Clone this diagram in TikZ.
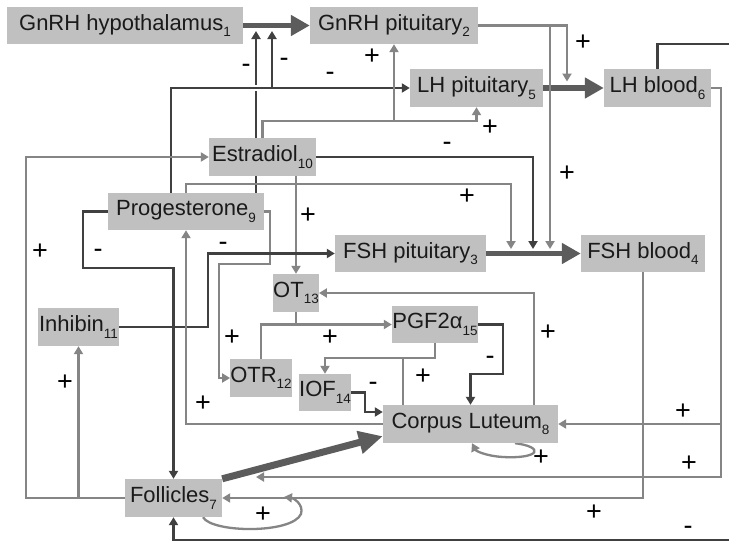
\documentclass[tikz,border=0pt]{standalone}
\usepackage{fontspec}
\setmainfont{Liberation Sans}
\usetikzlibrary{arrows.meta}
\pgfdeclarelayer{bg}
\pgfsetlayers{bg,main}
\definecolor{boxgray}{HTML}{C0C0C0}
\definecolor{darkline}{HTML}{404040}
\definecolor{grayline}{HTML}{858585}
\definecolor{thickline}{HTML}{5C5C5C}
\definecolor{txt}{HTML}{1A1A1A}
\newcommand\sbs[1]{\raisebox{-0.3em}{\fontsize{13.5}{14}\selectfont #1}}

\begin{document}
\begin{tikzpicture}[x=1pt,y=-1pt,
  box/.style={fill=boxgray, inner sep=0pt, text=txt, font=\fontsize{22}{24}\selectfont, anchor=center},
  sign/.style={text=black, font=\fontsize{27}{28}\selectfont, inner sep=0pt},
  gy/.style={draw=grayline, line width=2.3pt},
  dk/.style={draw=darkline, line width=2.6pt},
  tip/.style={-{Triangle[length=8pt,width=9pt]}},
  big/.style={draw=thickline, line width=5.5pt, -{Triangle[length=19pt,width=20pt]}},
  bigger/.style={draw=thickline, line width=7pt, -{Triangle[length=24pt,width=22pt]}},
]
\useasboundingbox (0,0) rectangle (729,541);

% hormone and tissue compartments
\node[box, minimum width=236pt, minimum height=37pt] (hyp)  at (125,25.5)   {GnRH hypothalamus\sbs{1}};
\node[box, minimum width=168pt, minimum height=37pt] (gpit) at (394,25.5)   {GnRH pituitary\sbs{2}};
\node[box, minimum width=133pt, minimum height=38pt] (lhp)  at (476.5,88)   {LH pituitary\sbs{5}};
\node[box, minimum width=107pt, minimum height=38pt] (lhb)  at (657.5,88)   {LH blood\sbs{6}};
\node[box, minimum width=107pt, minimum height=38pt] (e2)   at (262.5,157)  {Estradiol\sbs{10}};
\node[box, minimum width=156pt, minimum height=37pt] (p4)   at (186,211.5)  {Progesterone\sbs{9}};
\node[box, minimum width=151pt, minimum height=37pt] (fshp) at (410.5,253.5){FSH pituitary\sbs{3}};
\node[box, minimum width=124pt, minimum height=37pt] (fshb) at (643,253.5)  {FSH blood\sbs{4}};
\node[box, minimum width=81pt,  minimum height=38pt] (inh)  at (78.5,327)   {Inhibin\sbs{11}};
\node[box, minimum width=42pt,  minimum height=38pt] (ot)   at (296,293)    {OT\sbs{13}};
\node[box, minimum width=86pt,  minimum height=37pt] (pgf)  at (435,324.5)  {PGF2α\sbs{15}};
\node[box, minimum width=60pt,  minimum height=38pt] (otr)  at (261,378)    {OTR\sbs{12}};
\node[box, minimum width=50pt,  minimum height=37pt] (iof)  at (325,392.5)  {IOF\sbs{14}};
\node[box, minimum width=175pt, minimum height=38pt] (cl)   at (470.5,424)  {Corpus Luteum\sbs{8}};
\node[box, minimum width=97pt,  minimum height=38pt] (fol)  at (173.5,498)  {Follicles\sbs{7}};

% free ends that land on the release arrows
\coordinate (g1) at (256,31);
\coordinate (g2) at (272,31);
\coordinate (l1) at (567,81.5);
\coordinate (f1) at (511,249);
\coordinate (f2) at (533,249);
\coordinate (f3) at (550,249);
\coordinate (g5) at (256,477);

\begin{pgfonlayer}{bg}
\fill[white] (0,0) rectangle (729,541);

% release arrows
\draw[big] (hyp.east) -- (gpit.west);
\draw[big] (lhp.east) -- (lhb.west);
\draw[big] (fshp.east) -- (fshb.west);
\draw[bigger] (fol.north east) -- ([yshift=7pt]cl.south west);

% progesterone feedback
\draw[dk,tip] ([xshift=70pt]p4.north) -- (g1);
\draw[dk,tip,preaction={draw=white,line width=6pt}] ([xshift=-15pt]p4.north) |- (lhp.west);
\draw[dk,tip] (272,88) -- (g2);
\draw[dk,tip] (p4.west) -| (83,268) -| (fol.north);
\draw[gy,tip] (p4.north) |- (511,184) -- (f1);
\draw[gy,tip] (p4.east) -- (270,211.5) |- (219,264) |- (otr.west);

% estradiol feedback
\draw[dk,tip] (e2.east) -| (f2);
\draw[gy,tip] (e2.north) -- (262.5,121) -| (lhp.south);
\draw[gy,tip] (394,121) -- (gpit.south);
\draw[gy,tip] (ot.north |- e2.south) -- (ot.north);

% GnRH action on gonadotropin release
\draw[gy,tip] (gpit.east) -| (l1);
\draw[gy,tip] (550,25.5) -- (f3);

% inhibin
\draw[dk,tip] (inh.east) -- (208,327) |- (fshp.west);

% luteal network
\draw[gy,tip] (cl.west) -| (p4.south);
\draw[gy,tip] (ot.south) |- (pgf.west);
\draw[gy] (296,324.5) -| (otr.north);
\draw[gy,tip] (pgf.south) -- (435,358) -| (iof.north);
\draw[gy] (403,358) -- ([xshift=-67.5pt]cl.north);
\draw[dk,tip] (iof.east) -- (365,392.5) |- ([yshift=12pt]cl.west);
\draw[dk,tip] (pgf.east) -| (503,374) -| (cl.north);
\draw[gy,tip] ([xshift=63.5pt]cl.north) |- (ot.east);
\draw[gy,tip] ([xshift=44.5pt]cl.south) .. controls (545,447) and (540,459) .. (503,457)
  .. controls (486,456) and (476,451) .. ([xshift=1.5pt]cl.south);

% follicles
\draw[gy,tip] ([xshift=29.5pt]fol.south) .. controls (212,533) and (292,534) .. (301,514)
  .. controls (304,504) and (293,498) .. (284,497);
\draw[gy,tip] (fshb.south) |- (fol.east);
\draw[gy,tip] (fol.west) -- (26,498) |- (e2.west);
\draw[gy,tip] (inh.south |- fol.west) -- (inh.south);

% LH blood actions
\draw[gy,tip] (lhb.east) -| (721,477) -- (g5);
\draw[gy,tip] (721,424) -- (cl.east);
\draw[dk,tip] (lhb.north) |- (740,44) -- (740,540) -| (fol.south);
\end{pgfonlayer}

% signs of the interactions
\foreach \x/\y/\s [count=\i] in {
  246/68/-, 284/62/-, 330/76/-, 372/57/+, 583/43/+, 490/128/+, 447/146/-,
  567/174/+, 467/197/+, 40/252/+, 98/253/-, 308/216/+, 223/246/-, 548/333/+,
  232/338/+, 330/338/+, 490/360/-, 423/377/+, 373/386/-, 65/383/+, 203/404/+,
  683/412/+, 541/458/+, 689/464/+, 263/515/+, 594/513/+, 688/530/-}
  \node[sign] (sg\i) at (\x,\y) {\s};
\end{tikzpicture}
\end{document}
